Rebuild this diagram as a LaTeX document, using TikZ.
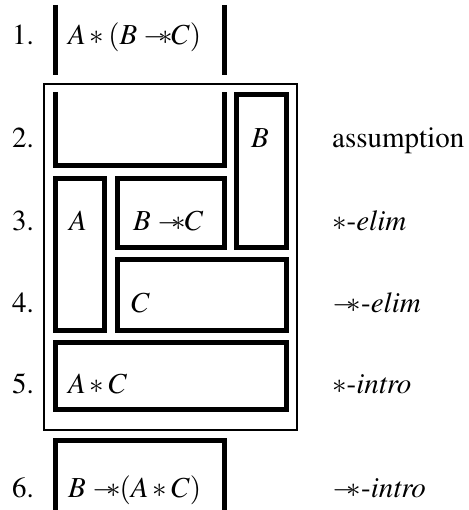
\documentclass[tikz,border=0pt]{standalone}
\usepackage[T1]{fontenc}
\usepackage{mathptmx}
\newcommand{\wand}{\mathrel{-\mkern-5mu\ast\mkern-5mu}}
\newcommand{\wandsym}{-\mkern-5mu\ast}
\begin{document}
\begin{tikzpicture}[x=1pt,y=-1pt,
  thk/.style={line width=5pt},
  thn/.style={line width=2pt},
  txt/.style={anchor=base west,inner sep=0pt,font=\fontsize{29}{35}\selectfont},
  num/.style={anchor=base east,inner sep=0pt,font=\fontsize{29}{35}\selectfont}]
\useasboundingbox (0,0) rectangle (468,510);
% outer thin box
\draw[thn] (44,84) rectangle (297,430);
% line 1 bars
\draw[thk] (55,5) -- (55,75);
\draw[thk] (224.5,5) -- (224.5,75);
% line 2 U box
\draw[thk] (55,92) -- (55,165.5) -- (224.5,165.5) -- (224.5,92);
% B box
\draw[thk] (236.5,94.5) rectangle (286.5,247.5);
% A box
\draw[thk] (55.5,178.5) rectangle (104.5,330.5);
% B -* C box
\draw[thk] (117.5,178.5) rectangle (224.5,247.5);
% C box
\draw[thk] (117.5,259.5) rectangle (286.5,330.5);
% A * C box
\draw[thk] (55.5,342.5) rectangle (286.5,409.5);
% line 6 box
\draw[thk] (55,520) -- (55,440.5) -- (224.5,440.5) -- (224.5,520);
% numbers
\node[num] (n1) at (34,45) {1.};
\node[num] (n2) at (34,148) {2.};
\node[num] (n3) at (34,230) {3.};
\node[num] (n4) at (34,312) {4.};
\node[num] (n5) at (34,393) {5.};
\node[num] (n6) at (34,497) {6.};
% formulas
\node[txt] (f1) at (68,45) {$A\ast(B\wand C)$};
\node[txt] (f2) at (251,148) {$B$};
\node[txt] (f3a) at (69,230) {$A$};
\node[txt] (f3b) at (133,230) {$B\wand C$};
\node[txt] (f4) at (131,312) {$C$};
\node[txt] (f5) at (68,393) {$A\ast C$};
\node[txt] (f6) at (68,497) {$B\wand(A\ast C)$};
% rules
\node[txt] (r2) at (332,148) {assumption};
\node[txt] (r3) at (332,230) {$\ast$-\textit{elim}};
\node[txt] (r4) at (332,312) {$\wandsym$-\textit{elim}};
\node[txt] (r5) at (332,393) {$\ast$-\textit{intro}};
\node[txt] (r6) at (332,497) {$\wandsym$-\textit{intro}};
\end{tikzpicture}
\end{document}
